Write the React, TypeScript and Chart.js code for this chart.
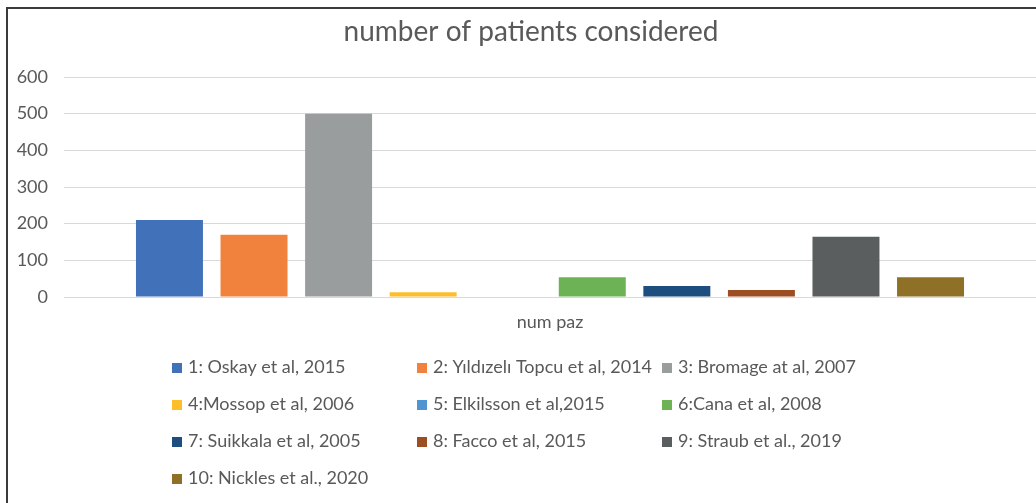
import React, { useEffect, useRef } from "react";
import { Chart, registerables } from "chart.js";

Chart.register(...registerables);

const chartTitle = "number of patients considered";
const categories = ["num paz"];
const studyNames = [
  "1: Oskay et al, 2015",
  "2: Yıldızelı Topcu et al, 2014",
  "3: Bromage at al, 2007",
  "4:Mossop et al, 2006",
  "5: Elkilsson et al,2015",
  "6:Cana et al, 2008",
  "7: Suikkala et al, 2005",
  "8: Facco et al, 2015",
  "9: Straub et al., 2019",
  "10: Nickles et al., 2020",
];
const patientCounts = [210, 170, 500, 13, 0, 54, 30, 19, 164, 54];
const studyColors = [
  "#4171B9",
  "#F1823D",
  "#9A9D9E",
  "#FDBE2A",
  "#4F95D1",
  "#6DB254",
  "#1E4E7F",
  "#9C4D22",
  "#5A5E5F",
  "#8E7126",
];
const yTicks = [0, 100, 200, 300, 400, 500, 600];

const FONT = "Lato, 'Open Sans', sans-serif";
const TEXT = "#595959";

const decorPlugin = {
  id: "decor",
  afterDraw(chart: any) {
    const ctx = chart.ctx;
    ctx.save();
    // frame (top & left)
    ctx.fillStyle = "#3a3a3a";
    ctx.fillRect(6, 7, 1036, 2);
    ctx.fillRect(6, 7, 2, 503);
    // title
    ctx.fillStyle = TEXT;
    ctx.font = `28px ${FONT}`;
    ctx.textAlign = "center";
    ctx.textBaseline = "alphabetic";
    ctx.fillText(chartTitle, 531, 41);
    // legend
    const cols = [172, 417, 662];
    const rowsTop = [363, 400, 437, 474];
    ctx.font = `18px ${FONT}`;
    ctx.textAlign = "left";
    chart.data.datasets.forEach((ds: any, i: number) => {
      const c = i % 3;
      const r = Math.floor(i / 3);
      const x = cols[c];
      const y = rowsTop[r];
      ctx.fillStyle = ds.backgroundColor;
      ctx.fillRect(x, y, 10, 10);
      ctx.fillStyle = TEXT;
      ctx.fillText(ds.label, x + 16, y + 10);
    });
    ctx.restore();
  },
};

export default function App() {
  const ref = useRef<HTMLCanvasElement>(null);
  useEffect(() => {
    if (!ref.current) return;
    const chart = new Chart(ref.current, {
      type: "bar",
      data: {
        labels: categories,
        datasets: studyNames.map((name, i) => ({
          label: name,
          data: [patientCounts[i]],
          backgroundColor: studyColors[i],
          borderWidth: 0,
          categoryPercentage: 0.87,
          barPercentage: 0.792,
        })),
      },
      options: {
        animation: false,
        responsive: false,
        maintainAspectRatio: false,
        layout: { padding: { top: 77, left: 0, right: 0, bottom: 166 } },
        plugins: {
          legend: { display: false },
          title: { display: false },
          tooltip: { enabled: false },
        },
        scales: {
          x: {
            grid: { display: false, drawTicks: false },
            border: { display: false },
            ticks: {
              color: TEXT,
              font: { family: FONT, size: 18 },
              padding: 14,
            },
            afterFit: (s: any) => {
              s.height = 40;
            },
          },
          y: {
            min: 0,
            max: 600,
            afterBuildTicks: (s: any) => {
              s.ticks = yTicks.map((v) => ({ value: v }));
            },
            grid: { color: "#d9d9d9", lineWidth: 1, drawTicks: false },
            border: { display: false },
            ticks: {
              color: TEXT,
              font: { family: FONT, size: 18 },
              padding: 16,
            },
            afterFit: (s: any) => {
              s.width = 64;
            },
          },
        },
      },
      plugins: [decorPlugin],
    });
    return () => chart.destroy();
  }, []);
  return (
    <div
      style={{
        position: "fixed",
        left: 0,
        top: 0,
        width: 1036,
        height: 503,
        background: "#fff",
        overflow: "hidden",
      }}
    >
      <canvas ref={ref} width={1036} height={503} style={{ display: "block" }} />
    </div>
  );
}
